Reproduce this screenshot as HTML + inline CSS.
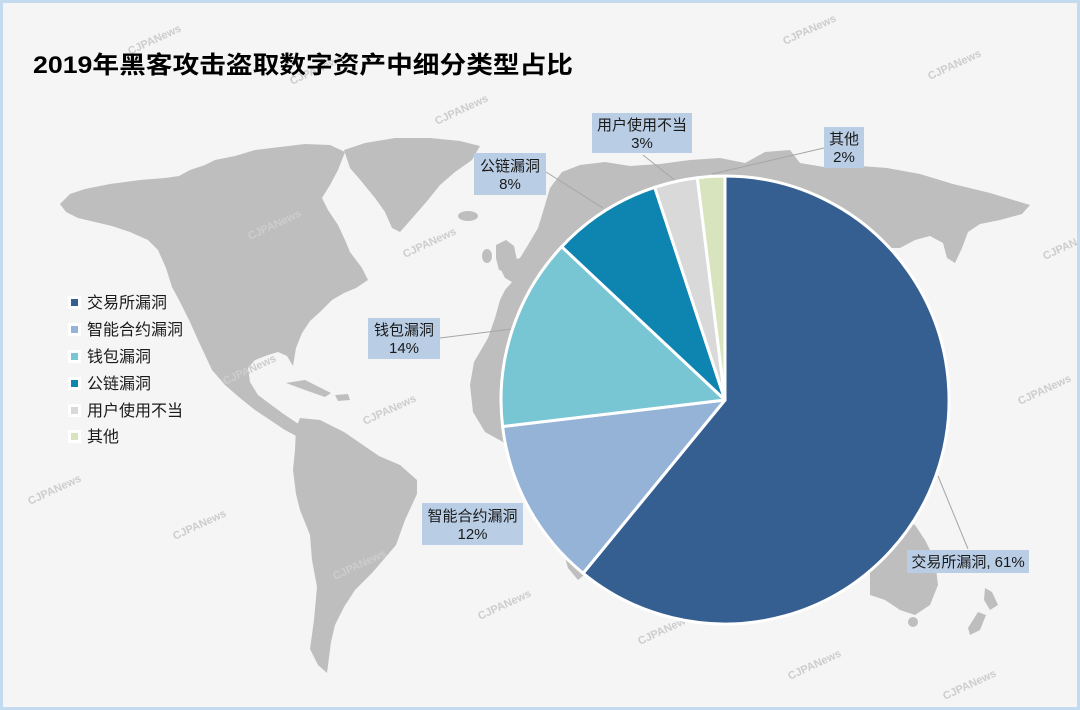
<!DOCTYPE html>
<html>
<head>
<meta charset="utf-8">
<style>
  html,body{margin:0;padding:0;background:#f5f5f5;}
  svg{display:block;}
  text{font-family:"Liberation Sans","Noto Sans CJK SC","WenQuanYi Zen Hei",sans-serif;}
</style>
</head>
<body>
<svg width="1080" height="710" viewBox="0 0 1080 710" xmlns="http://www.w3.org/2000/svg">
  <rect x="0" y="0" width="1080" height="710" fill="#f5f5f5"/>

  <!-- world map -->
  <g fill="#bebebe">
    <!-- North America -->
    <path d="M60,204 L70,194 85,189 110,184 140,180 165,178 179,176 190,170 205,165 215,160 235,156 255,150 280,147 305,144 330,145 345,152 338,170 330,185 322,198 328,210 338,225 345,240 350,252 362,268 368,280 356,288 344,293 332,300 320,312 310,321 302,333 296,348 293,366 287,356 278,352 268,355 255,360 248,368 250,382 258,395 270,404 285,415 300,425 305,432 298,437 285,430 270,420 255,410 240,398 225,385 212,370 205,355 198,340 190,322 180,302 172,287 166,268 158,250 148,240 130,232 112,226 95,222 78,218 66,212 Z"/>
    <!-- Greenland -->
    <path d="M344,150 L365,143 395,138 430,138 460,141 480,146 472,160 455,172 440,185 428,200 415,215 400,232 392,228 385,212 375,198 362,182 350,168 Z"/>
    <ellipse cx="468" cy="216" rx="10" ry="5"/>
    <!-- Cuba / Caribbean -->
    <path d="M286,383 L305,380 331,393 325,397 305,390 Z"/>
    <path d="M335,395 L348,394 350,400 338,401 Z"/>
    <!-- South America -->
    <path d="M296,428 L300,418 320,420 344,432 379,456 400,465 417,480 417,494 405,520 396,545 372,573 355,590 344,607 335,625 331,642 327,673 318,665 310,649 314,620 317,587 312,560 310,535 300,510 296,494 293,470 295,450 Z"/>
    <!-- Eurasia + Africa -->
    <path d="M470,385 L474,362 488,338 495,318 500,300 505,290 512,282 505,278 500,268 508,262 520,258 528,245 538,228 545,205 550,188 562,172 580,165 605,162 630,166 660,164 690,160 720,158 745,163 765,152 790,150 800,163 830,168 860,166 887,168 920,174 953,184 990,193 1030,205 1022,214 1000,220 980,224 968,232 962,248 955,263 947,258 943,243 930,236 915,240 900,248 888,248 870,262 850,330 800,430 700,500 610,540 590,570 578,580 568,568 560,540 545,500 525,462 503,442 485,432 473,412 Z"/>
    <!-- UK / Ireland -->
    <path d="M496,245 L506,240 514,246 517,260 511,272 499,270 496,258 Z"/>
    <ellipse cx="487" cy="256" rx="5" ry="7"/>
    <!-- Australia -->
    <path d="M870,530 L900,520 915,525 925,540 935,560 938,585 930,605 915,615 900,610 885,600 870,595 Z"/>
    <circle cx="913" cy="622" r="5"/>
    <!-- New Zealand -->
    <path d="M985,588 L992,592 998,605 990,610 984,600 Z"/>
    <path d="M978,612 L986,615 980,630 970,635 968,628 Z"/>
  </g>

  <!-- watermarks -->
  <g fill="#cdcdcd" font-size="11" font-weight="bold">
    <text transform="translate(130,55) rotate(-25)">CJPANews</text>
    <text transform="translate(292,85) rotate(-25)">CJPANews</text>
    <text transform="translate(437,125) rotate(-25)">CJPANews</text>
    <text transform="translate(785,45) rotate(-25)">CJPANews</text>
    <text transform="translate(930,80) rotate(-25)">CJPANews</text>
    <text transform="translate(250,240) rotate(-25)">CJPANews</text>
    <text transform="translate(405,258) rotate(-25)">CJPANews</text>
    <text transform="translate(1045,260) rotate(-25)">CJPANews</text>
    <text transform="translate(225,385) rotate(-25)">CJPANews</text>
    <text transform="translate(365,425) rotate(-25)">CJPANews</text>
    <text transform="translate(1020,405) rotate(-25)">CJPANews</text>
    <text transform="translate(30,505) rotate(-25)">CJPANews</text>
    <text transform="translate(175,540) rotate(-25)">CJPANews</text>
    <text transform="translate(335,580) rotate(-25)">CJPANews</text>
    <text transform="translate(480,620) rotate(-25)">CJPANews</text>
    <text transform="translate(640,645) rotate(-25)">CJPANews</text>
    <text transform="translate(790,680) rotate(-25)">CJPANews</text>
    <text transform="translate(945,700) rotate(-25)">CJPANews</text>
  </g>

  <!-- border -->
  <rect x="1.5" y="1.5" width="1077" height="707" fill="none" stroke="#c4daee" stroke-width="3"/>

  <!-- title -->
  <text x="33" y="73" font-size="24" font-weight="bold" fill="#000" textLength="540" lengthAdjust="spacingAndGlyphs">2019年黑客攻击盗取数字资产中细分类型占比</text>

  <!-- leader lines -->
  <g stroke="#a6a6a6" stroke-width="1" fill="none">
    <polyline points="938,476 968,549"/>
    <polyline points="440,338 512,329"/>
    <polyline points="546,172 603,208"/>
    <polyline points="643,155 677,182"/>
    <polyline points="824,148 712,174"/>
  </g>

  <!-- pie -->
  <g stroke="#ffffff" stroke-width="3" stroke-linejoin="round">
    <path d="M725,400 L725,176 A224,224 0 1 1 583.1,573.3 Z" fill="#365f91"/>
    <path d="M725,400 L583.1,573.3 A224,224 0 0 1 502.6,426.5 Z" fill="#95b3d7"/>
    <path d="M725,400 L502.6,426.5 A224,224 0 0 1 561.7,246.7 Z" fill="#78c5d3"/>
    <path d="M725,400 L561.7,246.7 A224,224 0 0 1 654.7,187.3 Z" fill="#0e84b0"/>
    <path d="M725,400 L654.7,187.3 A224,224 0 0 1 697.3,177.7 Z" fill="#d9d9d9"/>
    <path d="M725,400 L697.3,177.7 A224,224 0 0 1 725,176 Z" fill="#d7e4bd"/>
  </g>

  <!-- data labels -->
  <g font-size="15" fill="#1a1a1a" text-anchor="middle">
    <rect x="592" y="113" width="100" height="40" fill="#b9cde5"/>
    <text x="642" y="130">用户使用不当</text>
    <text x="642" y="148">3%</text>

    <rect x="824" y="127" width="40" height="41" fill="#b9cde5"/>
    <text x="844" y="144">其他</text>
    <text x="844" y="162">2%</text>

    <rect x="474" y="153" width="72" height="42" fill="#b9cde5"/>
    <text x="510" y="171">公链漏洞</text>
    <text x="510" y="189">8%</text>

    <rect x="368" y="318" width="72" height="41" fill="#b9cde5"/>
    <text x="404" y="335">钱包漏洞</text>
    <text x="404" y="353">14%</text>

    <rect x="422" y="503" width="101" height="42" fill="#b9cde5"/>
    <text x="472.5" y="521">智能合约漏洞</text>
    <text x="472.5" y="539">12%</text>

    <rect x="907" y="550" width="122" height="23" fill="#b9cde5"/>
    <text x="968" y="567">交易所漏洞, 61%</text>
  </g>

  <!-- legend -->
  <g>
    <rect x="68" y="296" width="13" height="13" fill="#ffffff"/>
    <rect x="71" y="299" width="7" height="7" fill="#365f91"/>
    <rect x="68" y="323" width="13" height="13" fill="#ffffff"/>
    <rect x="71" y="326" width="7" height="7" fill="#95b3d7"/>
    <rect x="68" y="350" width="13" height="13" fill="#ffffff"/>
    <rect x="71" y="353" width="7" height="7" fill="#78c5d3"/>
    <rect x="68" y="377" width="13" height="13" fill="#ffffff"/>
    <rect x="71" y="380" width="7" height="7" fill="#0e84b0"/>
    <rect x="68" y="404" width="13" height="13" fill="#ffffff"/>
    <rect x="71" y="407" width="7" height="7" fill="#d9d9d9"/>
    <rect x="68" y="430" width="13" height="13" fill="#ffffff"/>
    <rect x="71" y="433" width="7" height="7" fill="#d7e4bd"/>
  </g>
  <g font-size="16" fill="#1a1a1a">
    <text x="87" y="308">交易所漏洞</text>
    <text x="87" y="335">智能合约漏洞</text>
    <text x="87" y="362">钱包漏洞</text>
    <text x="87" y="389">公链漏洞</text>
    <text x="87" y="416">用户使用不当</text>
    <text x="87" y="442">其他</text>
  </g>
</svg>
</body>
</html>
